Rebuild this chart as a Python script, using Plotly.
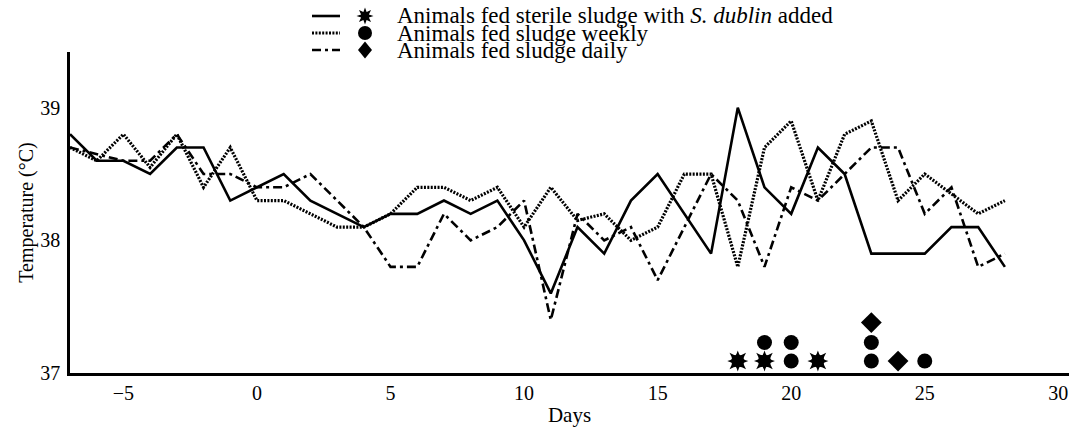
import math
import plotly.graph_objects as go

# ---- data ----
days = list(range(-7, 29))
sterile_dublin = [38.8, 38.6, 38.6, 38.5, 38.7, 38.7, 38.3, 38.4, 38.5, 38.3,
                  38.2, 38.1, 38.2, 38.2, 38.3, 38.2, 38.3, 38.0, 37.6, 38.1,
                  37.9, 38.3, 38.5, 38.2, 37.9, 39.0, 38.4, 38.2, 38.7, 38.5,
                  37.9, 37.9, 37.9, 38.1, 38.1, 37.8]
sludge_weekly = [38.7, 38.6, 38.8, 38.55, 38.8, 38.4, 38.7, 38.3, 38.3, 38.2,
                 38.1, 38.1, 38.2, 38.4, 38.4, 38.3, 38.4, 38.1, 38.4, 38.15,
                 38.2, 38.0, 38.1, 38.5, 38.5, 37.8, 38.7, 38.9, 38.3, 38.8,
                 38.9, 38.3, 38.5, 38.35, 38.2, 38.3]
sludge_daily = [38.7, 38.65, 38.6, 38.6, 38.8, 38.5, 38.5, 38.4, 38.4, 38.5,
                38.3, 38.1, 37.8, 37.8, 38.2, 38.0, 38.1, 38.3, 37.4, 38.2,
                38.0, 38.1, 37.7, 38.1, 38.5, 38.3, 37.8, 38.4, 38.3, 38.5,
                38.7, 38.7, 38.2, 38.4, 37.8, 37.9]

# event markers (day, stacked position on the temperature scale)
star_days = [18, 19, 21]
star_temps = [37.09, 37.09, 37.09]
circle_days = [19, 20, 20, 23, 23, 25]
circle_temps = [37.23, 37.09, 37.23, 37.09, 37.23, 37.09]
diamond_days = [23, 24]
diamond_temps = [37.38, 37.09]

legend_labels = ["Animals fed sterile sludge with <i>S. dublin</i> added",
                 "Animals fed sludge weekly",
                 "Animals fed sludge daily"]

x_ticks = [-5, 0, 5, 10, 15, 20, 25, 30]
y_ticks = [37, 38, 39]

# ---- styling ----
FONT = "Liberation Serif"
W, H = 1069, 428
ML, MR, MT, MB = 70, 0, 52, 55
X_RANGE = [-7, 30.4]
Y_RANGE = [37, 39.42]
dashes = ["solid", "2px,1.4px", "9px,4px,3px,4px"]
widths = [2.6, 3.2, 2.6]

fig = go.Figure()
for vals, d, w in zip([sterile_dublin, sludge_weekly, sludge_daily], dashes, widths):
    fig.add_trace(go.Scatter(x=days, y=vals, mode="lines",
                             line=dict(color="black", width=w, dash=d),
                             showlegend=False, hoverinfo="skip"))

for sym in ["star-square", "star-diamond"]:
    fig.add_trace(go.Scatter(x=star_days, y=star_temps, mode="markers",
                             marker=dict(symbol=sym, size=15, color="black"),
                             showlegend=False, cliponaxis=False))
fig.add_trace(go.Scatter(x=circle_days, y=circle_temps, mode="markers",
                         marker=dict(symbol="circle", size=15, color="black"),
                         showlegend=False, cliponaxis=False))
fig.add_trace(go.Scatter(x=diamond_days, y=diamond_temps, mode="markers",
                         marker=dict(symbol="diamond", size=16, color="black"),
                         showlegend=False, cliponaxis=False))

# ---- custom legend (pixel layout converted to paper units) ----
PW, PH = W - ML - MR, H - MT - MB
def px_x(p):
    return (p - ML) / PW
def px_y(p):
    return (H - MB - p) / PH

leg_rows = [16, 33, 50]
leg_line = (312, 340)
leg_mark_x = 365
leg_text_x = 395

def star_path(r_out=8.5, r_in=4.2, n=8):
    pts = []
    for k in range(2 * n):
        r = r_out if k % 2 == 0 else r_in
        a = math.pi / 2 + k * math.pi / n
        pts.append(f"{r * math.cos(a):.2f},{r * math.sin(a):.2f}")
    return "M" + " L".join(pts) + " Z"

leg_paths = [star_path(),
             None,  # circle
             "M0,8.5 L7,0 L0,-8.5 L-7,0 Z"]

for row, d, w, pth, lab in zip(leg_rows, dashes, widths, leg_paths, legend_labels):
    fig.add_shape(type="line", xref="paper", yref="paper",
                  x0=px_x(leg_line[0]), x1=px_x(leg_line[1]),
                  y0=px_y(row), y1=px_y(row),
                  line=dict(color="black", width=w, dash=d))
    common = dict(xref="paper", yref="paper", xsizemode="pixel", ysizemode="pixel",
                  xanchor=px_x(leg_mark_x), yanchor=px_y(row),
                  fillcolor="black", line=dict(width=0))
    if pth is None:
        fig.add_shape(type="circle", x0=-7, x1=7, y0=-7, y1=7, **common)
    else:
        fig.add_shape(type="path", path=pth, **common)
    fig.add_annotation(x=px_x(leg_text_x), y=px_y(row), xref="paper", yref="paper",
                       xanchor="left", yanchor="middle", showarrow=False,
                       text=lab, font=dict(family=FONT, size=23, color="black"))

fig.update_layout(
    width=W, height=H,
    margin=dict(l=ML, r=MR, t=MT, b=MB, autoexpand=False),
    paper_bgcolor="white", plot_bgcolor="white",
    font=dict(family=FONT, size=20, color="black"),
    showlegend=False,
    xaxis=dict(range=X_RANGE, tickvals=x_ticks, showgrid=False, zeroline=False,
               showline=True, linecolor="black", linewidth=2.5, ticks="", ticklen=0,
               ticklabelstandoff=0,
               title=dict(text="Days", font=dict(size=21), standoff=5)),
    yaxis=dict(range=Y_RANGE, tickvals=y_ticks, showgrid=False, zeroline=False,
               showline=True, linecolor="black", linewidth=2.5, ticks="", ticklen=0,
               ticklabelstandoff=3,
               title=dict(text="Temperature (°C)", font=dict(size=20), standoff=2)),
)

fig.write_html("out.html", config={"displayModeBar": False},
               post_script="document.body.style.margin='0';document.body.style.padding='0';")
